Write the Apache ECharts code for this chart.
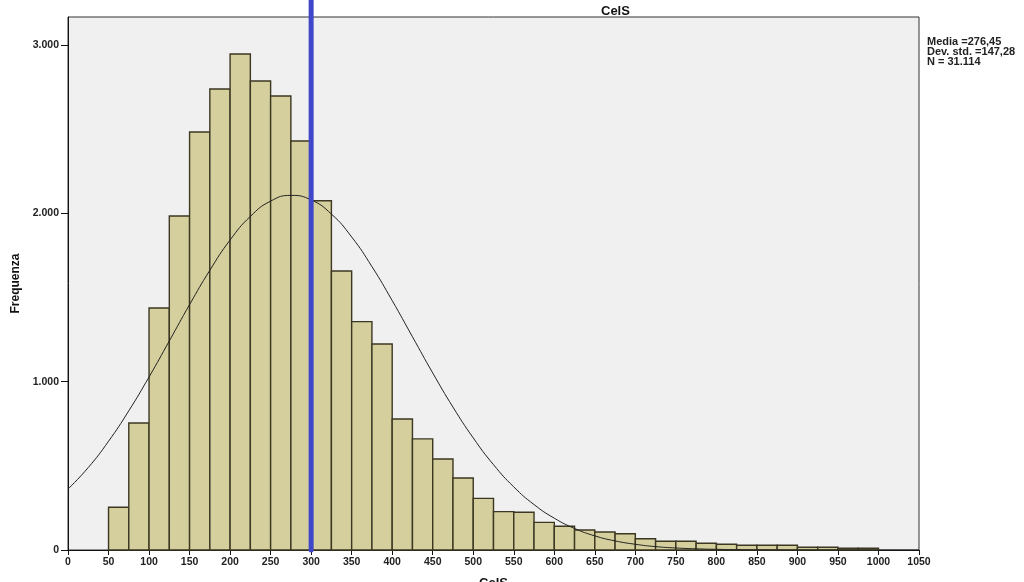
<!DOCTYPE html>
<html>
<head>
<meta charset="utf-8">
<script src="https://cdn.jsdelivr.net/npm/echarts@6/dist/echarts.min.js"></script>
<style>
    html, body { margin: 0; padding: 0; background: #fff; }
    #chart { width: 1024px; height: 582px; }
</style>
</head>
<body>
<div id="chart"></div>
<script>
// bin edges (width 25) and frequencies
const binLeft = [50, 75, 100, 125, 150, 175, 200, 225, 250, 275, 300, 325, 350, 375, 400, 425, 450, 475, 500, 525,
    550, 575, 600, 625, 650, 675, 700, 725, 750, 775, 800, 825, 850, 875, 900, 925, 950, 975];
const binWidth = 25;
const freq = [254, 755, 1438, 1985, 2484, 2739, 2947, 2787, 2698, 2430, 2075, 1658, 1357, 1224, 778, 660, 541, 428, 307, 228,
    224, 164, 141, 119, 107, 97, 67, 52, 52, 40, 34, 28, 28, 28, 16, 16, 10, 10];

// normal curve
const curveX = [0, 25, 50, 75, 100, 125, 150, 175, 200, 225, 250, 275, 300, 325, 350, 375, 400, 425, 450, 475, 500,
    525, 550, 575, 600, 625, 650, 675, 700, 725, 750, 775, 800, 825, 850, 875, 900, 950, 1000, 1050];
const curveY = [362, 490, 646, 827, 1028, 1242, 1458, 1662, 1842, 1982, 2073, 2107, 2080, 1996, 1860, 1684, 1482, 1267, 1052, 849, 666,
    507, 375, 270, 189, 128, 84, 54, 34, 20, 12, 7, 4, 2, 1, 0, 0, 0, 0, 0];

const xTicks = { min: 0, max: 1050, step: 50 };
const yTickValues = [0, 1000, 2000, 3000];
const refLineX = 300;
const statsLines = ['Media =276,45', 'Dev. std. =147,28', 'N = 31.114'];

const chart = echarts.init(document.getElementById('chart'));

function fmtThousands(v) {
    return String(v).replace(/\B(?=(\d{3})+(?!\d))/g, '.');
}

const labelFont = {
    color: '#222',
    fontFamily: 'Liberation Sans',
    fontWeight: 'bold',
    fontSize: 10.5
};

chart.setOption({
    backgroundColor: '#fff',
    animation: false,
    title: {
        text: 'CelS',
        left: 596,
        top: 0,
        textStyle: { fontFamily: 'Liberation Sans', fontWeight: 'bold', fontSize: 13, color: '#111' }
    },
    graphic: [
        {
            type: 'text',
            left: 927,
            top: 36,
            style: {
                text: statsLines.join('\n'),
                font: 'bold 11px "Liberation Sans"',
                lineHeight: 10,
                fill: '#222'
            }
        }
    ],
    grid: {
        left: 68,
        right: 105,
        top: 17,
        bottom: 32,
        containLabel: false,
        outerBoundsMode: 'none',
        show: true,
        backgroundColor: '#f0f0f0',
        borderColor: '#333',
        borderWidth: 1
    },
    xAxis: {
        type: 'value',
        min: xTicks.min,
        max: xTicks.max,
        interval: xTicks.step,
        name: 'CelS',
        nameLocation: 'middle',
        nameGap: 27,
        nameTextStyle: { fontFamily: 'Liberation Sans', fontWeight: 'bold', fontSize: 13, color: '#111' },
        axisLine: { lineStyle: { color: '#111', width: 1 } },
        axisTick: { show: true, length: 5, lineStyle: { color: '#111' } },
        axisLabel: Object.assign({ margin: 7, formatter: (v) => String(v) }, labelFont),
        splitLine: { show: false }
    },
    yAxis: {
        type: 'value',
        min: 0,
        max: 3167,
        interval: 1000,
        name: 'Frequenza',
        nameLocation: 'middle',
        nameGap: 45,
        nameRotate: 90,
        nameTextStyle: { fontFamily: 'Liberation Sans', fontWeight: 'bold', fontSize: 12, color: '#111' },
        axisLine: { show: true, lineStyle: { color: '#111', width: 1 } },
        axisTick: { show: true, length: 7, customValues: yTickValues, lineStyle: { color: '#111' } },
        axisLabel: Object.assign({
            margin: 9,
            customValues: yTickValues,
            formatter: (v) => fmtThousands(v)
        }, labelFont),
        splitLine: { show: false }
    },
    series: [
        {
            type: 'custom',
            name: 'freq',
            z: 2,
            data: binLeft.map((x, i) => [x, x + binWidth, freq[i]]),
            renderItem: function (params, api) {
                const p0 = api.coord([api.value(0), api.value(2)]);
                const p1 = api.coord([api.value(1), 0]);
                return {
                    type: 'rect',
                    shape: { x: p0[0], y: p0[1], width: p1[0] - p0[0], height: p1[1] - p0[1] },
                    style: { fill: '#d4cf9c', stroke: '#3b3722', lineWidth: 1.4 }
                };
            }
        },
        {
            type: 'line',
            name: 'normal',
            z: 3,
            smooth: true,
            showSymbol: false,
            data: curveX.map((x, i) => [x, curveY[i]]),
            lineStyle: { color: '#222', width: 1 }
        },
        {
            type: 'line',
            name: 'ref',
            z: 4,
            clip: false,
            showSymbol: false,
            data: [[refLineX, 0], [refLineX, 3270]],
            lineStyle: { color: '#4046c8', width: 5, cap: 'round' }
        }
    ]
});
</script>
</body>
</html>
